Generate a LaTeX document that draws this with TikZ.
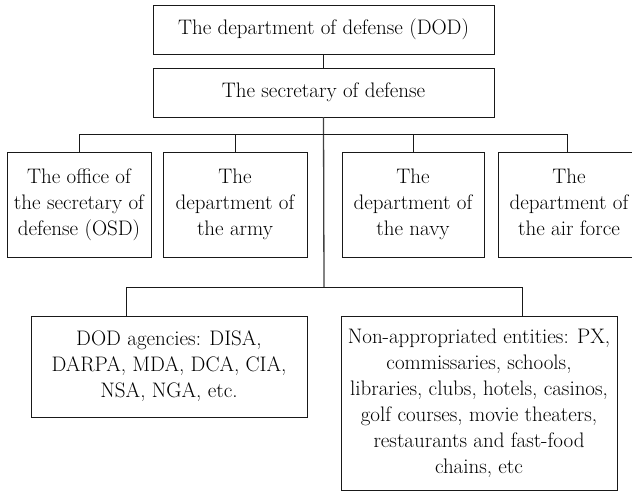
\documentclass[tikz,border=0pt]{standalone}
\usepackage{fontspec}
\begin{document}
\begin{tikzpicture}[x=1pt,y=-1pt,
  box/.style={draw=black!90, line width=0.9pt, inner sep=0pt, outer sep=0pt,
    align=center, text=black, font=\fontsize{21}{26}\selectfont},
  link/.style={draw=black!90, line width=0.9pt},
  trunk/.style={draw=black!75, line width=1.3pt}]
\useasboundingbox (0,0) rectangle (632,493);
\clip (0,0) rectangle (632,493);
\node[box, minimum width=341pt, minimum height=49pt] (top) at (323.5,29.5) {The department of defense (DOD)};
\node[box, minimum width=341pt, minimum height=49pt] (sec) at (323.5,92.5) {The secretary of defense};
\node[box, minimum width=144pt, minimum height=105pt] (b1) at (79,204.5) {The office of\\the secretary of\\defense (OSD)};
\node[box, minimum width=144pt, minimum height=105pt] (b2) at (235,204.5) {The\\department of\\the army};
\node[box, minimum width=142pt, minimum height=105pt] (b3) at (413,204.5) {The\\department of\\the navy};
\node[box, minimum width=142pt, minimum height=105pt] (b4) at (569,204.5) {The\\department of\\the air force\vphantom{y}};
\node[box, minimum width=276pt, minimum height=101pt] (b5) at (169,366.5) {DOD agencies: DISA,\\DARPA, MDA, DCA, CIA,\\NSA, NGA, etc.};
\node[box, minimum width=276pt, minimum height=174pt] (b6) at (479,403) {Non-appropriated entities: PX,\\commissaries, schools,\\libraries, clubs, hotels, casinos,\\golf courses, movie theaters,\\restaurants and fast-food\\chains, etc};
\coordinate (ubar) at (324,134);
\coordinate (u4) at (567,134);
\coordinate (lbar) at (324,287);
\coordinate (l5) at (126,287);
\coordinate (l6) at (522,287);
\draw[link] (top.south) -- (sec.north);
\draw[trunk] (sec.south) -- (lbar);
\draw[link] (b1.north) |- (u4) -- (u4 |- b4.north);
\draw[link] (b2.north) -- (b2.north |- ubar);
\draw[link] (b3.north) -- (b3.north |- ubar);
\draw[link] (l5 |- b5.north) -- (l5) -- (l6) -- (l6 |- b6.north);
\end{tikzpicture}
\end{document}
